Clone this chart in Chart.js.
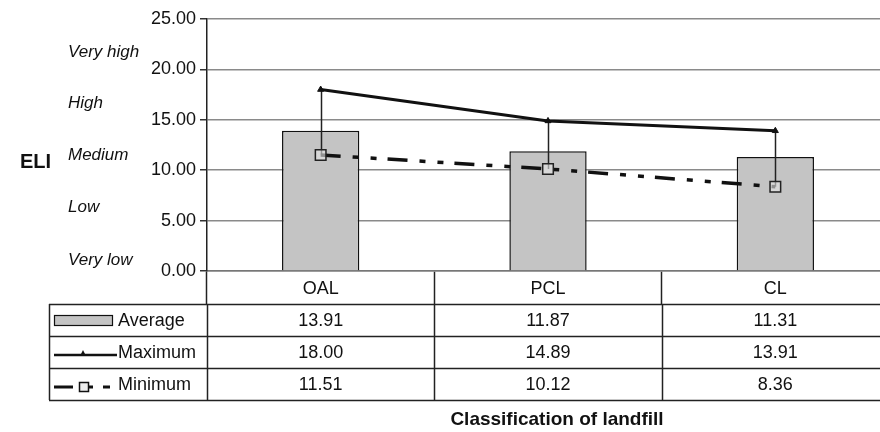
<!DOCTYPE html>
<html lang="en">
<head>
    <meta charset="utf-8" />
    <title>ELI by classification of landfill</title>
    <script src="https://cdn.jsdelivr.net/npm/chart.js@4.4.1/dist/chart.umd.min.js"></script>
    <style>
        html, body { margin: 0; padding: 0; background: #fff; overflow: hidden; }
        #wrap { width: 898px; height: 432px; }
    </style>
</head>
<body>
    <div id="wrap"><canvas id="myChart" width="898" height="432"></canvas></div>

    <script>
        //Chart data.
        var categories = ['OAL', 'PCL', 'CL'];
        var averageValues = [13.91, 11.87, 11.31];
        var maximumValues = [18.00, 14.89, 13.91];
        var minimumValues = [11.51, 10.12, 8.36];
        var seriesNames = ['Average', 'Maximum', 'Minimum'];
        var yTicks = [0, 5, 10, 15, 20, 25];
        var levelLabels = ['Very high', 'High', 'Medium', 'Low', 'Very low'];
        var levelValues = [21.7, 16.6, 11.5, 6.3, 1.1];
        var yAxisLabel = 'ELI';
        var xAxisLabel = 'Classification of landfill';

        var FONT = "'Liberation Sans', Arial, sans-serif";
        Chart.defaults.font.family = FONT;
        Chart.defaults.color = '#111';

        //Draws the high-low lines, the level labels and the data table under the plot.
        var extrasPlugin = {
            id: 'extras',
            afterDatasetDraw: function (chart, args) {
                if (args.meta.type !== 'bar') return;
                var ctx = chart.ctx, xs = chart.scales.x, ys = chart.scales.y;
                ctx.save();
                ctx.strokeStyle = '#222';
                ctx.lineWidth = 1.5;
                for (var i = 0; i < categories.length; i++) {
                    var x = Math.round(xs.getPixelForValue(i)) + 0.5;
                    ctx.beginPath();
                    ctx.moveTo(x, ys.getPixelForValue(maximumValues[i]));
                    ctx.lineTo(x, ys.getPixelForValue(minimumValues[i]));
                    ctx.stroke();
                }
                ctx.restore();
            },
            afterDraw: function (chart) {
                var ctx = chart.ctx, xs = chart.scales.x, ys = chart.scales.y;
                ctx.save();

                //ELI label.
                ctx.fillStyle = '#111';
                ctx.font = 'bold 20px ' + FONT;
                ctx.textAlign = 'left';
                ctx.textBaseline = 'middle';
                ctx.fillText(yAxisLabel, 20, 162);

                //Level labels.
                ctx.font = 'italic 17px ' + FONT;
                for (var i = 0; i < levelLabels.length; i++) {
                    ctx.fillText(levelLabels[i], 68, ys.getPixelForValue(levelValues[i]));
                }

                //Data table.
                var n = categories.length;
                var colW = (xs.right - xs.left) / n;
                var top = xs.bottom;
                var rowH = 32;
                var tableLeft = 49;
                var bottom = top + rowH * 3;

                ctx.strokeStyle = '#222';
                ctx.lineWidth = 1.5;
                ctx.beginPath();
                for (var r = 0; r <= 3; r++) {
                    var y = Math.round(top + r * rowH) + 0.5;
                    ctx.moveTo(tableLeft, y);
                    ctx.lineTo(xs.right, y);
                }
                ctx.moveTo(tableLeft + 0.5, top);
                ctx.lineTo(tableLeft + 0.5, bottom);
                for (var c = 0; c <= n; c++) {
                    var x = Math.round(xs.left + c * colW) + 0.5;
                    ctx.moveTo(x, top);
                    ctx.lineTo(x, bottom);
                }
                ctx.stroke();

                var rows = [averageValues, maximumValues, minimumValues];
                ctx.font = '18px ' + FONT;
                ctx.textAlign = 'center';
                for (var r = 0; r < 3; r++) {
                    var cy = top + r * rowH + rowH / 2 + 1;
                    for (var c = 0; c < n; c++) {
                        ctx.fillText(rows[r][c].toFixed(2), xs.left + c * colW + colW / 2, cy);
                    }
                }

                //Series keys.
                ctx.textAlign = 'left';
                for (var r = 0; r < 3; r++) {
                    var cy = top + r * rowH + rowH / 2;
                    ctx.fillStyle = '#111';
                    ctx.fillText(seriesNames[r], 118, cy + 1);
                }
                var cy0 = top + rowH / 2;
                ctx.fillStyle = '#c4c4c4';
                ctx.fillRect(54, cy0 - 5, 59, 11);
                ctx.strokeStyle = '#111';
                ctx.lineWidth = 1.2;
                ctx.strokeRect(54.5, cy0 - 4.5, 58, 10);

                var cy1 = top + rowH * 1.5 + 3;
                ctx.lineWidth = 2.5;
                ctx.beginPath();
                ctx.moveTo(54, cy1);
                ctx.lineTo(117, cy1);
                ctx.stroke();
                ctx.fillStyle = '#111';
                ctx.beginPath();
                ctx.moveTo(80, cy1 + 1);
                ctx.lineTo(86, cy1 + 1);
                ctx.lineTo(83, cy1 - 5);
                ctx.closePath();
                ctx.fill();

                var cy2 = top + rowH * 2.5 + 3;
                ctx.lineWidth = 3;
                ctx.beginPath();
                ctx.moveTo(54, cy2);
                ctx.lineTo(73, cy2);
                ctx.moveTo(89, cy2);
                ctx.lineTo(93, cy2);
                ctx.moveTo(103, cy2);
                ctx.lineTo(110, cy2);
                ctx.stroke();
                ctx.fillStyle = '#eee';
                ctx.fillRect(79, cy2 - 5, 10, 10);
                ctx.lineWidth = 1.5;
                ctx.strokeRect(79.5, cy2 - 4.5, 9, 9);

                //X axis title.
                ctx.fillStyle = '#111';
                ctx.font = 'bold 19px ' + FONT;
                ctx.textAlign = 'center';
                ctx.fillText(xAxisLabel, 557, 420);

                ctx.restore();
            }
        };

        var chart = new Chart(document.getElementById('myChart'), {
            type: 'bar',
            data: {
                labels: categories,
                datasets: [{
                    type: 'line',
                    label: seriesNames[1],
                    data: maximumValues,
                    borderColor: '#111',
                    borderWidth: 3,
                    pointStyle: 'triangle',
                    pointRadius: 3.5,
                    pointBackgroundColor: '#111',
                    pointBorderColor: '#111',
                    pointBorderWidth: 1,
                    tension: 0,
                    order: 1
                }, {
                    type: 'line',
                    label: seriesNames[2],
                    data: minimumValues,
                    borderColor: '#111',
                    borderWidth: 3.5,
                    borderDash: [20, 12, 6, 12, 6, 11],
                    pointStyle: 'rect',
                    pointRadius: 7.5,
                    pointBackgroundColor: 'rgba(230,230,230,0.6)',
                    pointBorderColor: '#222',
                    pointBorderWidth: 1.5,
                    tension: 0,
                    order: 2
                }, {
                    type: 'bar',
                    label: seriesNames[0],
                    data: averageValues,
                    backgroundColor: '#c4c4c4',
                    borderColor: '#111',
                    borderWidth: 1.5,
                    categoryPercentage: 1,
                    barPercentage: 0.34,
                    order: 3
                }]
            },
            options: {
                responsive: false,
                animation: false,
                layout: { padding: { top: 19, right: 1, bottom: 128, left: 0 } },
                plugins: {
                    legend: { display: false },
                    tooltip: { enabled: false }
                },
                scales: {
                    x: {
                        offset: true,
                        afterFit: function (s) { s.height = 33; },
                        grid: {
                            offset: true,
                            drawOnChartArea: false,
                            tickLength: 33,
                            tickColor: '#222',
                            tickWidth: 1.5
                        },
                        border: { display: true, color: '#777', width: 1.5 },
                        ticks: { font: { size: 18 }, color: '#111', padding: -26 }
                    },
                    y: {
                        min: 0,
                        max: 25,
                        afterFit: function (s) { s.width = 207; },
                        afterBuildTicks: function (s) {
                            s.ticks = yTicks.map(function (v) { return { value: v }; });
                        },
                        grid: {
                            color: '#8a8a8a',
                            lineWidth: 1.5,
                            tickLength: 7,
                            tickColor: '#333'
                        },
                        border: { display: true, color: '#222', width: 1.5 },
                        ticks: {
                            font: { size: 18 },
                            color: '#111',
                            padding: 4,
                            callback: function (v) { return Number(v).toFixed(2); }
                        }
                    }
                }
            },
            plugins: [extrasPlugin]
        });
    </script>
</body>
</html>
